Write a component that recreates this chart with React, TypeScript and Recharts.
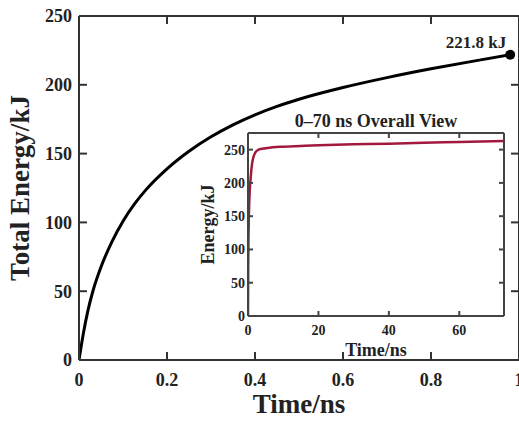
import { LineChart, Line, XAxis, YAxis, ReferenceDot, Label } from 'recharts'

// main view, 0–1 ns
const mainTime = [0, 0.01, 0.02, 0.032, 0.05, 0.075, 0.1, 0.125, 0.15, 0.2, 0.25, 0.3, 0.35, 0.4, 0.45, 0.5, 0.6, 0.7, 0.8, 0.9, 0.98]
const mainEnergy = [0, 19.5, 35.5, 50.5, 67.6, 86.1, 100.9, 112.9, 122.9, 138.9, 151.7, 162.2, 170.9, 178.2, 184.3, 189.5, 198, 205.2, 211.6, 217.4, 221.8]
const mainXTicks = [0, 0.2, 0.4, 0.6, 0.8, 1]
const mainYTicks = [0, 50, 100, 150, 200, 250]

// inset, whole run
const insetTime = [0, 0.05, 0.1, 0.25, 0.5, 0.75, 1, 1.25, 1.5, 2, 3, 5, 7, 10, 15, 20, 30, 40, 50, 60, 72.7]
const insetEnergy = [0, 67, 101, 150, 189, 207, 222, 232, 238, 245, 250, 252, 253.5, 254.5, 255.5, 256.5, 258, 259, 260.5, 261.5, 263]
const insetXTicks = [0, 20, 40, 60]
const insetYTicks = [0, 50, 100, 150, 200, 250]

const finalPoint = { t: 0.98, e: 221.8, label: '221.8 kJ' }

const FONT = "'Liberation Serif', 'Times New Roman', serif"
const INK = '#222'
const FRAME = '#333'
const INSET_FRAME = '#444'

const mainData = mainTime.map((t, i) => ({ t, e: mainEnergy[i] }))
const insetData = insetTime.map((t, i) => ({ t, e: insetEnergy[i] }))

// each tick draws its own inward mark (and the label, where the axis has one)
const bottomTick = (m: number, len: number, size: number, color: string) => (p: any) => (
  <g>
    <line x1={p.x} y1={p.y - m} x2={p.x} y2={p.y - m - len} stroke={color} strokeWidth={2} />
    <text x={p.x} y={p.y} dy="0.71em" textAnchor="middle" fontFamily={FONT} fontWeight={700} fontSize={size} fill={INK}>
      {String(p.payload.value)}
    </text>
  </g>
)
const leftTick = (m: number, len: number, size: number, color: string) => (p: any) => (
  <g>
    <line x1={p.x + m} y1={p.y} x2={p.x + m + len} y2={p.y} stroke={color} strokeWidth={2} />
    <text x={p.x} y={p.y} dy="0.355em" textAnchor="end" fontFamily={FONT} fontWeight={700} fontSize={size} fill={INK}>
      {String(p.payload.value)}
    </text>
  </g>
)
const topMark = (len: number, color: string) => (p: any) => (
  <line x1={p.x} y1={p.y} x2={p.x} y2={p.y + len} stroke={color} strokeWidth={2} />
)
const rightMark = (len: number, color: string) => (p: any) => (
  <line x1={p.x} y1={p.y} x2={p.x - len} y2={p.y} stroke={color} strokeWidth={2} />
)

function MainChart() {
  const frameLine = { stroke: FRAME, strokeWidth: 2 }
  const xDomain = [0, 1]
  const yDomain = [0, 250]
  return (
    <LineChart width={530} height={421} data={mainData} margin={{ top: 16, right: 11, bottom: 21, left: 19 }}>
      <XAxis
        dataKey="t"
        type="number"
        domain={xDomain}
        allowDataOverflow
        ticks={mainXTicks}
        height={40}
        tickSize={0}
        tickMargin={13}
        tick={bottomTick(13, 8, 18, FRAME)}
        axisLine={frameLine}
        tickLine={false}
      >
        <Label
          content={(p: any) => (
            <text
              x={p.viewBox.x + p.viewBox.width / 2}
              y={p.viewBox.y + 53}
              textAnchor="middle"
              fontFamily={FONT}
              fontWeight={700}
              fontSize={27}
              fill={INK}
            >
              Time/ns
            </text>
          )}
        />
      </XAxis>
      <YAxis
        type="number"
        domain={yDomain}
        allowDataOverflow
        ticks={mainYTicks}
        width={60}
        tickSize={0}
        tickMargin={7}
        tick={leftTick(7, 8, 18, FRAME)}
        axisLine={frameLine}
        tickLine={false}
      >
        <Label
          content={(p: any) => {
            const cy = p.viewBox.y + p.viewBox.height / 2
            return (
              <text
                x={29}
                y={cy}
                transform={`rotate(-90, 29, ${cy})`}
                textAnchor="middle"
                fontFamily={FONT}
                fontWeight={700}
                fontSize={27}
                fill={INK}
              >
                Total Energy/kJ
              </text>
            )
          }}
        />
      </YAxis>
      <XAxis xAxisId="top" orientation="top" mirror dataKey="t" type="number" domain={xDomain} allowDataOverflow ticks={mainXTicks} tickSize={0} tickMargin={0} tick={topMark(8, FRAME)} axisLine={frameLine} tickLine={false} />
      <YAxis yAxisId="right" orientation="right" mirror type="number" domain={yDomain} allowDataOverflow ticks={mainYTicks} tickSize={0} tickMargin={0} tick={rightMark(8, FRAME)} axisLine={frameLine} tickLine={false} />
      <Line
        type="monotone"
        dataKey="e"
        stroke="#000"
        strokeWidth={3}
        dot={false}
        isAnimationActive={false}
      />
      <ReferenceDot
        x={finalPoint.t}
        y={finalPoint.e}
        r={5}
        fill="#000"
        stroke="none"
        label={{
          content: (p: any) => {
            const cx = p.viewBox.x + p.viewBox.width / 2
            const cy = p.viewBox.y + p.viewBox.height / 2
            return (
              <text x={cx - 4} y={cy - 7} textAnchor="end" fontFamily={FONT} fontWeight={700} fontSize={17} fill={INK}>
                {finalPoint.label}
              </text>
            )
          },
        }}
      />
    </LineChart>
  )
}

function InsetChart() {
  const insetFrame = { stroke: INSET_FRAME, strokeWidth: 2 }
  const xDomain = [0, 72.7]
  const yDomain = [0, 275]
  return (
    <LineChart width={320} height={265} data={insetData} margin={{ top: 33, right: 6, bottom: 14, left: 13 }}>
      <XAxis
        dataKey="t"
        type="number"
        domain={xDomain}
        allowDataOverflow
        ticks={insetXTicks}
        height={35}
        tickSize={0}
        tickMargin={9}
        tick={bottomTick(9, 5, 14, INSET_FRAME)}
        axisLine={insetFrame}
        tickLine={false}
      >
        <Label
          content={(p: any) => (
            <text
              x={p.viewBox.x + p.viewBox.width / 2}
              y={p.viewBox.y + 40}
              textAnchor="middle"
              fontFamily={FONT}
              fontWeight={700}
              fontSize={18}
              fill={INK}
            >
              Time/ns
            </text>
          )}
        />
      </XAxis>
      <YAxis
        type="number"
        domain={yDomain}
        allowDataOverflow
        ticks={insetYTicks}
        width={45}
        tickSize={0}
        tickMargin={3}
        tick={leftTick(3, 5, 14, INSET_FRAME)}
        axisLine={insetFrame}
        tickLine={false}
      >
        <Label
          content={(p: any) => {
            const cy = p.viewBox.y + p.viewBox.height / 2
            return (
              <text
                x={24}
                y={cy}
                transform={`rotate(-90, 24, ${cy})`}
                textAnchor="middle"
                fontFamily={FONT}
                fontWeight={700}
                fontSize={18}
                fill={INK}
              >
                Energy/kJ
              </text>
            )
          }}
        />
      </YAxis>
      <XAxis xAxisId="top" orientation="top" mirror dataKey="t" type="number" domain={xDomain} allowDataOverflow ticks={insetXTicks} tickSize={0} tickMargin={0} tick={topMark(5, INSET_FRAME)} axisLine={insetFrame} tickLine={false}>
        <Label
          content={(p: any) => (
            <text
              x={p.viewBox.x + p.viewBox.width / 2}
              y={p.viewBox.y - 6}
              textAnchor="middle"
              fontFamily={FONT}
              fontWeight={700}
              fontSize={18}
              fill={INK}
            >
              0–70 ns Overall View
            </text>
          )}
        />
      </XAxis>
      <YAxis yAxisId="right" orientation="right" mirror type="number" domain={yDomain} allowDataOverflow ticks={insetYTicks} tickSize={0} tickMargin={0} tick={rightMark(5, INSET_FRAME)} axisLine={insetFrame} tickLine={false} />
      <Line
        type="monotone"
        dataKey="e"
        stroke="#A2193D"
        strokeWidth={2.5}
        dot={false}
        isAnimationActive={false}
      />
    </LineChart>
  )
}

export default function App() {
  return (
    <div style={{ position: 'absolute', left: 0, top: 0, width: 519, height: 421, overflow: 'hidden', background: '#fff' }}>
      <div style={{ position: 'absolute', left: 0, top: 0 }}>
        <MainChart />
      </div>
      <div style={{ position: 'absolute', left: 190, top: 100 }}>
        <InsetChart />
      </div>
    </div>
  )
}
